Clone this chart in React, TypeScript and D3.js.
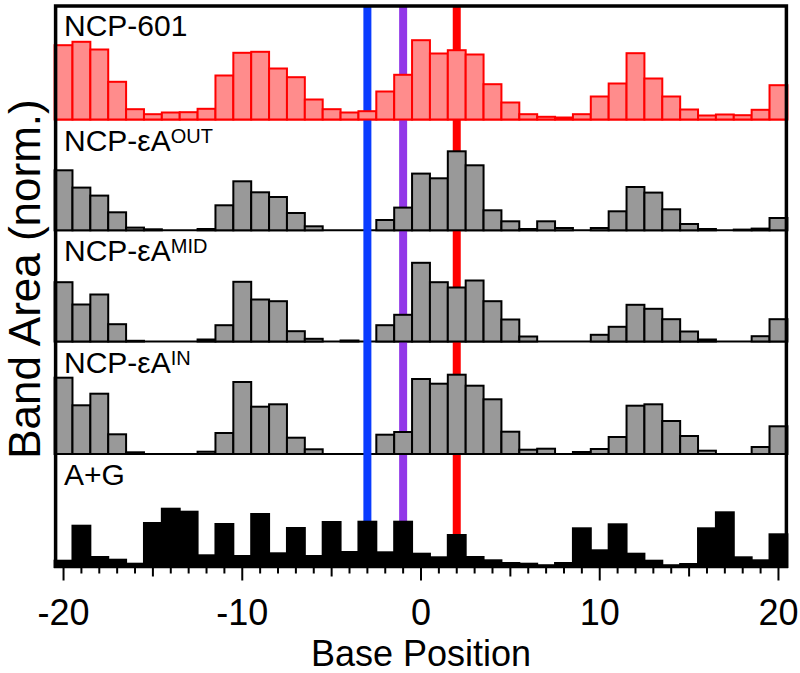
import React from "react";
import * as d3 from "d3";

const positions = [-20, -19, -18, -17, -16, -15, -14, -13, -12, -11, -10, -9, -8, -7, -6, -5, -4, -3, -2, -1, 0, 1, 2, 3, 4, 5, 6, 7, 8, 9, 10, 11, 12, 13, 14, 15, 16, 17, 18, 19, 20];

const ncp601 = [74.3, 77.7, 70, 37.7, 10.3, 5.3, 7, 7.3, 10.7, 44, 66.7, 67.7, 51, 42.3, 20, 10.3, 7, 8.3, 28, 44.7, 79.3, 66, 69.3, 65, 35.3, 17, 5.3, 2.7, 2, 5.3, 23, 36, 66.3, 41, 23, 10, 4, 5, 4.3, 9.7, 34.3];
const ncpOut = [60, 42.7, 34.7, 18, 2.7, 1, 0, 0, 1.3, 25, 49, 38, 33.3, 17.3, 4, 0, 0, 0, 10.3, 22.7, 56.7, 52, 79, 65, 20, 9, 1.3, 9, 2.3, 0, 2.3, 19, 43.3, 37.7, 21, 6.3, 1.3, 0, 0.7, 1.7, 12.3];
const ncpMid = [59.3, 37, 47, 17.3, 0.7, 0, 0, 0, 2, 16.3, 59.7, 42, 40.3, 10.3, 2.7, 0, 1, 0, 16.3, 26.7, 78.7, 59.3, 54, 61, 40.3, 22, 5, 0, 0, 0, 6.7, 14.7, 36.7, 32.7, 22.3, 10, 2, 0, 0, 5.3, 22.3];
const ncpIn = [76.3, 48.7, 60.3, 19.7, 1.7, 0, 0, 0, 2.3, 21, 72, 47.3, 49.7, 16.3, 4.7, 0, 0, 0, 19.3, 22, 75, 70.3, 79.3, 68.3, 54.7, 22.3, 4.3, 5.3, 0, 2, 5, 17, 48.3, 49.7, 33, 18, 3.3, 0, 0, 7, 27.7];
const ag = [6.3, 41.3, 10, 7.3, 3.3, 44, 58.3, 55.3, 11.7, 43, 11, 53, 13.7, 39, 11, 45, 15, 45.3, 14.7, 45.3, 13.3, 9.7, 32, 10, 6.7, 4, 3.3, 1.7, 4, 38.7, 16.7, 42.7, 13.3, 6.3, 1.7, 3, 38.7, 54.7, 9.7, 6.7, 32.7];

const panelNames = ["NCP-601", "NCP-εA", "NCP-εA", "NCP-εA", "A+G"];
const panelSups = ["", "OUT", "MID", "IN", ""];
const markerPositions = [-3, -1, 2];
const markerColors = ["#0a3cff", "#9238e8", "#ff0000"];
const majorTicks = [-20, -10, 0, 10, 20];

const series = [ncp601, ncpOut, ncpMid, ncpIn, ag];
const fills = ["#ff8c8c", "#999999", "#999999", "#999999", "#000000"];
const strokes = ["#ff0000", "#000000", "#000000", "#000000", "#000000"];

const W = 800;
const H = 673;
const plotLeft = 54.6;
const plotRight = 787.4;
const plotTop = 5;
const plotBottom = 567.5;
const baselines = [119.5, 230.3, 341.5, 454, 567];
const panelTops = [5, 119.5, 230.3, 341.5, 454];
const FONT = "'Liberation Sans', Arial, Helvetica, sans-serif";

export default function App() {
  const x = d3.scaleLinear().domain([-20.5, 20.5]).range([plotLeft, plotRight]);
  const bw = x(1) - x(0);
  const allTicks = d3.range(-20, 21);

  return (
    <svg width={W} height={H} style={{ position: "absolute", left: 0, top: 0, background: "#fff" }} fontFamily={FONT}>
      <rect x={0} y={0} width={W} height={H} fill="#fff" />
      {series.map((_, i) =>
        i < 4 ? (
          <line key={"sep" + i} x1={plotLeft} x2={plotRight} y1={baselines[i]} y2={baselines[i]} stroke={strokes[i]} strokeWidth={2} />
        ) : null
      )}
      {markerPositions.map((p, i) => (
        <line key={"m" + i} x1={x(p)} x2={x(p)} y1={plotTop} y2={plotBottom} stroke={markerColors[i]} strokeWidth={8} />
      ))}
      {series.map((vals, i) => {
        const y = d3.scaleLinear().domain([0, 100]).range([baselines[i], baselines[i] - 100]);
        return (
          <g key={"p" + i}>
            {vals.map((v, j) =>
              v > 0.2 ? (
                <rect
                  key={j}
                  x={x(positions[j]) - bw / 2}
                  y={y(v)}
                  width={bw}
                  height={y(0) - y(v)}
                  fill={fills[i]}
                  stroke={strokes[i]}
                  strokeWidth={2}
                />
              ) : null
            )}
          </g>
        );
      })}
      {panelNames.map((n, i) => (
        <text key={"l" + i} x={64} y={panelTops[i] + 31} fontSize={30} fill="#000">
          {n}
          {panelSups[i] ? (
            <tspan fontSize={20} dy={-8}>
              {panelSups[i]}
            </tspan>
          ) : null}
        </text>
      ))}
      <rect x={plotLeft + 1} y={plotTop + 1} width={plotRight - plotLeft - 2} height={plotBottom - plotTop - 2} fill="none" stroke="#000" strokeWidth={3.5} />
      {allTicks.map((t) => {
        const len = t % 10 === 0 ? 13 : t % 5 === 0 ? 9 : 6;
        return <line key={"t" + t} x1={x(t)} x2={x(t)} y1={plotBottom} y2={plotBottom + len} stroke="#000" strokeWidth={2} />;
      })}
      {majorTicks.map((t) => (
        <text key={"tl" + t} x={x(t)} y={625} fontSize={36} textAnchor="middle" fill="#000">
          {t}
        </text>
      ))}
      <text x={x(0)} y={666} fontSize={36} textAnchor="middle" fill="#000">
        Base Position
      </text>
      <text transform={`translate(40, 279) rotate(-90)`} fontSize={44} textAnchor="middle" fill="#000">
        Band Area (norm.)
      </text>
    </svg>
  );
}
